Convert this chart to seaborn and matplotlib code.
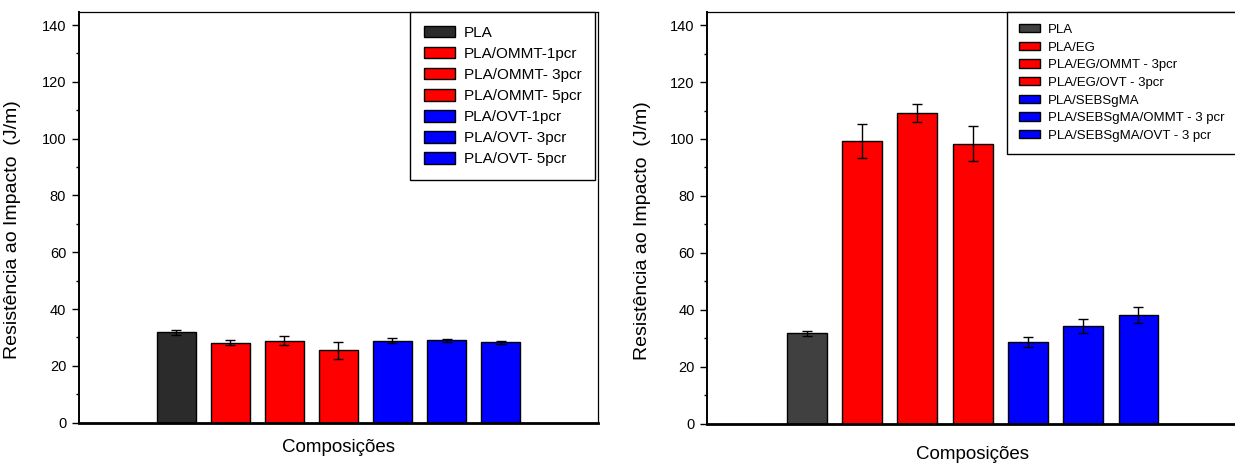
import matplotlib
matplotlib.use("Agg")
import matplotlib.pyplot as plt
import seaborn as sns
import pandas as pd
from matplotlib.patches import Patch
from matplotlib.ticker import MultipleLocator

# ---------------- data ----------------
left_labels = ["PLA", "PLA/OMMT-1pcr", "PLA/OMMT- 3pcr", "PLA/OMMT- 5pcr",
               "PLA/OVT-1pcr", "PLA/OVT- 3pcr", "PLA/OVT- 5pcr"]
left_means = [31.9, 28.2, 28.8, 25.5, 28.8, 29.0, 28.3]
left_err = [0.9, 0.8, 1.6, 3.0, 0.9, 0.6, 0.5]
left_colors = ["#2b2b2b", "#ff0000", "#ff0000", "#ff0000", "#0000ff", "#0000ff", "#0000ff"]

right_labels = ["PLA", "PLA/EG", "PLA/EG/OMMT - 3pcr", "PLA/EG/OVT - 3pcr",
                "PLA/SEBSgMA", "PLA/SEBSgMA/OMMT - 3 pcr", "PLA/SEBSgMA/OVT - 3 pcr"]
right_means = [31.8, 99.4, 109.0, 98.4, 28.8, 34.3, 38.2]
right_err = [0.9, 6.0, 3.2, 6.3, 1.8, 2.6, 2.8]
right_colors = ["#404040", "#ff0000", "#ff0000", "#ff0000", "#0000ff", "#0000ff", "#0000ff"]

ylabel = "Resistência ao Impacto  (J/m)"
xlabel = "Composições"

sns.set_theme(style="ticks")
plt.rcParams["font.family"] = ["Liberation Sans", "DejaVu Sans"]
for k in ["text.color", "axes.labelcolor", "xtick.color", "ytick.color",
          "axes.edgecolor"]:
    plt.rcParams[k] = "black"

fig = plt.figure(figsize=(12.35, 4.63), dpi=100)
W, H = 1235, 463

def px_axes(l, t, r, b):
    return fig.add_axes([l / W, (H - b) / H, (r - l) / W, (b - t) / H])

ax1 = px_axes(78.7, 12, 598, 422.7)
ax2 = px_axes(707.3, 12, 1238, 423.7)


def draw(ax, labels, means, errs, colors, legend_fs, leg_anchor, leg_loc,
         handlelength, handleheight, labelspacing, ylab_xy, xlab_xy):
    df = pd.DataFrame({"comp": labels, "val": means})
    sns.barplot(data=df, x="comp", y="val", hue="comp", order=labels,
                hue_order=labels, palette=colors, dodge=False, width=0.72,
                edgecolor="black", linewidth=1.0, saturation=1, legend=False,
                errorbar=None, ax=ax)
    ax.errorbar(range(len(labels)), means, yerr=errs, fmt="none",
                ecolor="black", elinewidth=1.0, capsize=3.5, capthick=1.0,
                zorder=5)
    ax.set_xlim(-1.8, 7.8)
    ax.set_ylim(0, 144.6)
    ax.yaxis.set_major_locator(MultipleLocator(20))
    ax.yaxis.set_minor_locator(MultipleLocator(10))
    ax.tick_params(axis="y", which="major", direction="out", length=5,
                   width=1.0, labelsize=10.5, pad=4, color="black",
                   labelcolor="black")
    ax.tick_params(axis="y", which="minor", direction="out", length=2.5,
                   width=1.0, color="black")
    ax.set_xticks([])
    for s in ["top", "right"]:
        ax.spines[s].set_linewidth(0.9)
        ax.spines[s].set_color("black")
    ax.spines["left"].set_linewidth(1.4)
    ax.spines["left"].set_color("black")
    ax.spines["bottom"].set_linewidth(2.0)
    ax.spines["bottom"].set_color("black")
    ax.set_ylabel(ylabel, fontsize=14, color="black")
    ax.yaxis.set_label_coords(*ylab_xy)
    ax.set_xlabel(xlabel, fontsize=13.5, color="black")
    ax.xaxis.set_label_coords(*xlab_xy)
    handles = [Patch(facecolor=c, edgecolor="black", linewidth=1.0) for c in colors]
    leg = ax.legend(handles, labels, loc=leg_loc, bbox_to_anchor=leg_anchor,
                    borderaxespad=0, fontsize=legend_fs, frameon=True,
                    fancybox=False, handlelength=handlelength,
                    handleheight=handleheight, labelspacing=labelspacing,
                    handletextpad=0.6, borderpad=0.9)
    leg.get_frame().set_edgecolor("black")
    leg.get_frame().set_linewidth(1.0)
    leg.get_frame().set_alpha(1)
    for t in leg.get_texts():
        t.set_color("black")


draw(ax1, left_labels, left_means, left_err, left_colors, 11,
     (0.995, 1.0), "upper right", 2.0, 0.8, 0.45, (-0.111, 0.47), (0.5, -0.04))
draw(ax2, right_labels, right_means, right_err, right_colors, 9.5,
     (0.565, 1.0), "upper left", 1.6, 0.6, 0.43, (-0.106, 0.47), (0.5, -0.055))

fig.savefig("out.png", dpi=100)
